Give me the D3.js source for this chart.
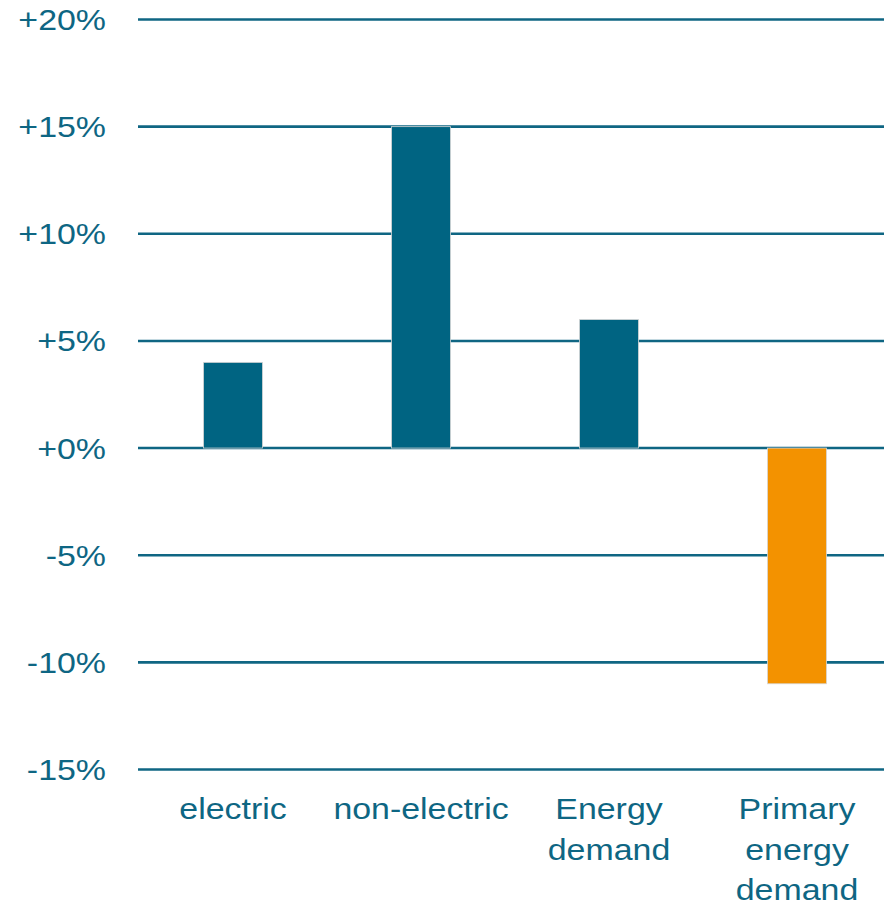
<!DOCTYPE html>
<html>
<head>
<meta charset="utf-8">
<script src="https://cdn.jsdelivr.net/npm/d3@7"></script>
<style>
html,body{margin:0;padding:0;background:#fff;}
svg{display:block;}
text{font-family:"Liberation Sans",Arial,sans-serif;fill:#0e6683;}
</style>
</head>
<body>
<svg id="chart" width="884" height="907"></svg>
<script>
const categories = [["electric"], ["non-electric"], ["Energy", "demand"], ["Primary", "energy", "demand"]];
const values = [4, 15, 6, -11];
const barColors = ["#006482", "#006482", "#006482", "#F39200"];
const tickValues = [20, 15, 10, 5, 0, -5, -10, -15];
const tickLabels = ["+20%", "+15%", "+10%", "+5%", "+0%", "-5%", "-10%", "-15%"];

const svg = d3.select("#chart");
const y = d3.scaleLinear().domain([-15, 20]).range([769.5, 19.5]);
const x = d3.scaleBand().domain(d3.range(categories.length)).range([139, 891]).paddingInner(0.686).paddingOuter(0.343);

const sx = 1.15;

// gridlines
svg.append("g").selectAll("line").data(tickValues).join("line")
  .attr("x1", 138).attr("x2", 884)
  .attr("y1", d => y(d)).attr("y2", d => y(d))
  .attr("stroke", "#0f6683").attr("stroke-width", 2.6);

// tick labels
svg.append("g").selectAll("text").data(tickValues).join("text")
  .attr("transform", d => `translate(106,${y(d) + 10.5}) scale(${sx},1)`)
  .attr("text-anchor", "end")
  .attr("font-size", "29.5px")
  .text((d, i) => tickLabels[i]);

// bars
svg.append("g").selectAll("rect").data(values).join("rect")
  .attr("x", (d, i) => x(i))
  .attr("width", x.bandwidth())
  .attr("y", d => Math.min(y(d), y(0)))
  .attr("height", d => Math.abs(y(d) - y(0)))
  .attr("fill", (d, i) => barColors[i])
  .attr("stroke", "#d6d6d6").attr("stroke-width", 0.8);

// category labels
const cg = svg.append("g");
categories.forEach((lines, i) => {
  const cx = x(i) + x.bandwidth() / 2;
  lines.forEach((ln, j) => {
    cg.append("text")
      .attr("transform", `translate(${cx},${819 + j * 40.5}) scale(${sx},1)`)
      .attr("text-anchor", "middle")
      .attr("font-size", "29.5px")
      .text(ln);
  });
});
</script>
</body>
</html>
